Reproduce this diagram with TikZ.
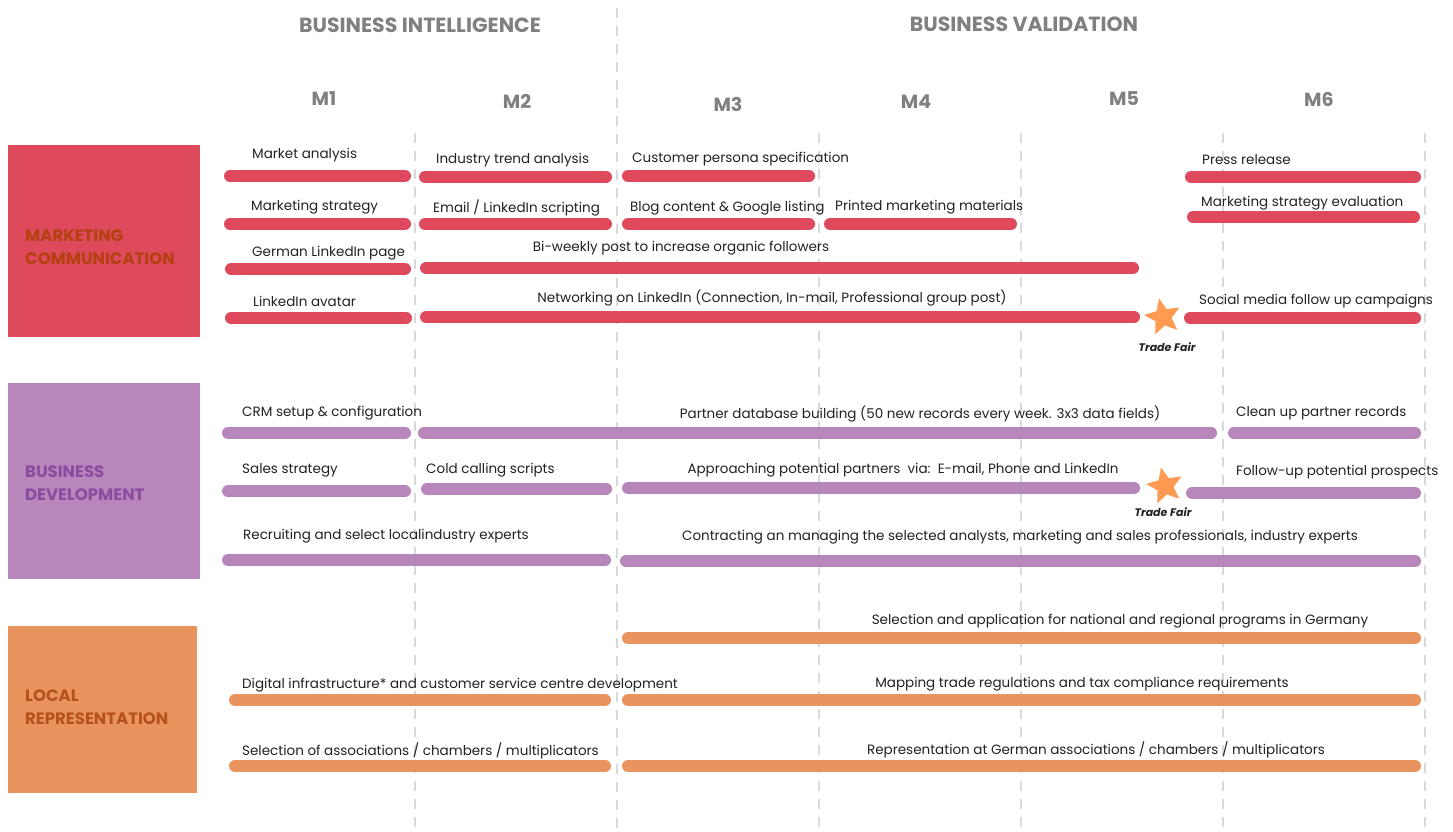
\documentclass[tikz,border=0pt]{standalone}
\usepackage{fontspec}
\setmainfont{Poppins}
\usetikzlibrary{shapes.geometric}
\definecolor{mcred}{HTML}{DE4A5C}
\definecolor{bdpur}{HTML}{B786BA}
\definecolor{lrora}{HTML}{E9935F}
\definecolor{starora}{HTML}{FF9A52}
\definecolor{hdgray}{HTML}{808080}
\definecolor{dashgray}{HTML}{D9D9D9}
\definecolor{mctxt}{HTML}{B3400F}
\definecolor{bdtxt}{HTML}{8B4BA0}
\definecolor{lrtxt}{HTML}{B5521C}
\definecolor{txt}{HTML}{222222}
\newcommand\gbar[4]{\draw[barline,#1] ({#2+6},#4) -- ({#3-6},#4);}
\begin{document}
\begin{tikzpicture}[x=1pt,y=-1pt,
  barline/.style={line width=12pt,line cap=round},
  lbl/.style={inner sep=0pt,anchor=west,text=txt,font=\fontsize{13.5}{15}\selectfont},
  clbl/.style={inner sep=0pt,anchor=center,text=txt,font=\fontsize{13.5}{15}\selectfont},
  hdr/.style={inner sep=0pt,text=hdgray,font=\fontsize{20.5}{22}\selectfont\bfseries},
  mon/.style={inner sep=0pt,text=hdgray,font=\fontsize{19}{20}\selectfont\bfseries},
  cat/.style={inner sep=0pt,anchor=west,align=left,font=\fontsize{16.5}{23}\selectfont\bfseries},
  gridline/.style={dashgray,line width=2.5pt,dash pattern=on 10pt off 8pt},
  tstar/.style={star,star points=5,star point ratio=2.2,fill=starora,minimum size=38pt,inner sep=0pt,rotate=12},
  tf/.style={inner sep=0pt,text=txt,font=\fontsize{11}{12}\selectfont\bfseries\itshape}
]
\useasboundingbox (0,0) rectangle (1453,832);
\fill[white] (0,0) rectangle (1453,832);
% grid lines
\coordinate (g2t) at (617,8); \coordinate (g2b) at (617,832);
\draw[gridline] (g2t) -- (g2b);
\foreach \gx in {415,819,1021,1223,1425}{
  \draw[gridline] (\gx,133) -- (\gx,832);
}
% headers
\node[hdr] (bi) at (420,25) {BUSINESS INTELLIGENCE};
\node[hdr] (bv) at (1024,24) {BUSINESS VALIDATION};
\node[mon] (m1) at (324,99) {M1};
\node[mon] (m2) at (517,101) {M2};
\node[mon] (m3) at (728,104) {M3};
\node[mon] (m4) at (916,102) {M4};
\node[mon] (m5) at (1124,99) {M5};
\node[mon] (m6) at (1319,99) {M6};
% category boxes
\fill[mcred] (8,145) rectangle (200,337);
\fill[bdpur] (8,383) rectangle (200,579);
\fill[lrora] (8,626) rectangle (197,793);
\node[cat,text=mctxt] (mc) at (25,247) {MARKETING\\COMMUNICATION};
\node[cat,text=bdtxt] (bd) at (25,483) {BUSINESS\\DEVELOPMENT};
\node[cat,text=lrtxt] (lr) at (25,707) {LOCAL\\REPRESENTATION};
% ---- Marketing communication
\gbar{mcred}{224}{411}{176}
\gbar{mcred}{419}{612}{177}
\gbar{mcred}{622}{815}{176}
\gbar{mcred}{1185}{1421}{177}
\node[lbl] (t1) at (252,155) {Market analysis};
\node[lbl] (t2) at (436,160) {Industry trend analysis};
\node[lbl] (t3) at (632,159) {Customer persona specification};
\node[lbl] (t4) at (1202,160) {Press release};
\gbar{mcred}{224}{411}{224}
\gbar{mcred}{419}{612}{224}
\gbar{mcred}{622}{815}{224}
\gbar{mcred}{824}{1017}{224}
\gbar{mcred}{1187}{1420}{217}
\node[lbl] (t5) at (251,207) {Marketing strategy};
\node[lbl] (t6) at (433,208) {Email / LinkedIn scripting};
\node[lbl] (t7) at (630,208) {Blog content \& Google listing};
\node[lbl] (t8) at (835,207) {Printed marketing materials};
\node[lbl] (t9) at (1201,203) {Marketing strategy evaluation};
\gbar{mcred}{225}{411}{269}
\gbar{mcred}{420}{1139}{268}
\node[lbl] (t10) at (252,253) {German LinkedIn page};
\node[clbl] (t11) at (681,248) {Bi-weekly post to increase organic followers};
\gbar{mcred}{225}{412}{318}
\gbar{mcred}{420}{1140}{317}
\gbar{mcred}{1184}{1421}{318}
\node[lbl] (t12) at (253,301) {LinkedIn avatar};
\node[clbl] (t13) at (772,298) {Networking on LinkedIn (Connection, In-mail, Professional group post)};
\node[lbl] (t14) at (1199,301) {Social media follow up campaigns};
\node[tstar] (s1) at (1163,317) {};
\node[tf] (tf1) at (1167,347) {Trade Fair};
% ---- Business development
\gbar{bdpur}{222}{411}{433}
\gbar{bdpur}{418}{1217}{433}
\gbar{bdpur}{1228}{1421}{433}
\node[lbl] (u1) at (242,413) {CRM setup \& configuration};
\node[clbl] (u2) at (920,414) {Partner database building (50 new records every week. 3x3 data fields)};
\node[lbl] (u3) at (1236,413) {Clean up partner records};
\gbar{bdpur}{222}{411}{491}
\gbar{bdpur}{421}{612}{489}
\gbar{bdpur}{622}{1140}{488}
\gbar{bdpur}{1186}{1421}{493}
\node[lbl] (u4) at (242,470) {Sales strategy};
\node[lbl] (u5) at (426,470) {Cold calling scripts};
\node[clbl] (u6) at (903,470) {Approaching potential partners\ \ via:\ \ E-mail, Phone and LinkedIn};
\node[lbl] (u7) at (1236,472) {Follow-up potential prospects};
\node[tstar] (s2) at (1165,486) {};
\node[tf] (tf2) at (1163,512) {Trade Fair};
\gbar{bdpur}{222}{611}{560}
\gbar{bdpur}{620}{1421}{561}
\node[lbl] (u8) at (243,536) {Recruiting and select localindustry experts};
\node[clbl] (u9) at (1020,537) {Contracting an managing the selected analysts, marketing and sales professionals, industry experts};
% ---- Local representation
\gbar{lrora}{622}{1421}{638}
\node[clbl] (v1) at (1120,621) {Selection and application for national and regional programs in Germany};
\gbar{lrora}{229}{611}{700}
\gbar{lrora}{622}{1421}{700}
\node[lbl] (v2) at (242,685) {Digital infrastructure* and customer service centre development};
\node[clbl] (v3) at (1082,684) {Mapping trade regulations and tax compliance requirements};
\gbar{lrora}{229}{611}{766}
\gbar{lrora}{622}{1421}{766}
\node[lbl] (v4) at (242,751) {Selection of associations / chambers / multiplicators};
\node[clbl] (v5) at (1096,750) {Representation at German associations / chambers / multiplicators};
\end{tikzpicture}
\end{document}
